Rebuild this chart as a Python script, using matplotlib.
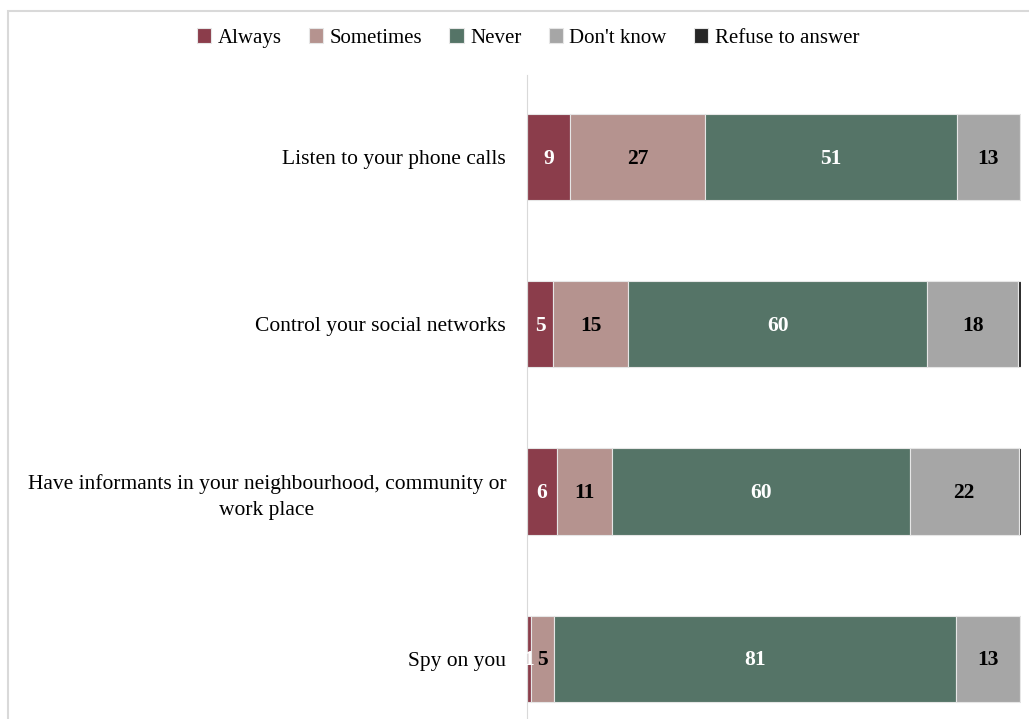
import numpy as np
from matplotlib import pyplot as plt
from matplotlib.patches import Rectangle

plt.rcParams['font.family'] = ['Liberation Serif', 'DejaVu Serif']

# datos
categorias = ["Listen to your phone calls",
              "Control your social networks",
              "Have informants in your neighbourhood, community or\nwork place",
              "Spy on you"]
series = ["Always", "Sometimes", "Never", "Don't know", "Refuse to answer"]
always = [8.7, 5.3, 6.1, 0.8]
sometimes = [27.3, 15.2, 11.1, 4.7]
never = [51.0, 60.5, 60.3, 81.4]
dont_know = [12.8, 18.4, 22.0, 12.8]
refuse = [0.2, 0.6, 0.5, 0.3]

colores = ["#8B3D4B", "#B5938F", "#557467", "#A6A6A6", "#262626"]
col_texto = ["white", "black", "white", "black", None]

fig = plt.figure(figsize=(10.29, 7.19), dpi=100)
fig.patches.append(Rectangle((8/1029, -0.1), 1.2, 1 - 11/719 + 0.1,
                             transform=fig.transFigure, fill=False,
                             edgecolor="#D9D9D9", linewidth=1.5))
ax = fig.add_axes([527/1029, 0, 494/1029, 1 - 75/719])

y = np.arange(len(categorias))
izq = np.zeros(len(categorias))
for i, vals in enumerate([always, sometimes, never, dont_know, refuse]):
    vals = np.array(vals)
    ax.barh(y, vals, left=izq, height=0.515, color=colores[i],
            edgecolor="#E6E6E6", linewidth=0.8, label=series[i])
    if col_texto[i] is not None:
        for j in range(len(y)):
            ax.text(izq[j] + vals[j]/2, y[j] + 0.01, str(int(round(vals[j]))),
                    ha="center", va="center", color=col_texto[i],
                    fontsize=15.5, fontweight="bold")
    izq += vals

ax.set_xlim(0, 100)
ax.set_ylim(3.36, -0.49)
ax.set_yticks(y)
ax.set_yticklabels(categorias, fontsize=15.5, ha="right",
                   multialignment="center", linespacing=1.45)
ax.tick_params(axis="y", length=0, pad=15)
ax.set_xticks([])
for s in ["top", "right", "bottom"]:
    ax.spines[s].set_visible(False)
ax.spines["left"].set_color("#D9D9D9")

fig.legend(loc="center", bbox_to_anchor=(528/1029, 1 - 38/719), ncol=5,
           frameon=False, fontsize=15, handlelength=0.7, handleheight=0.7,
           handletextpad=0.3, columnspacing=1.3)

plt.savefig("out.png", dpi=100)
